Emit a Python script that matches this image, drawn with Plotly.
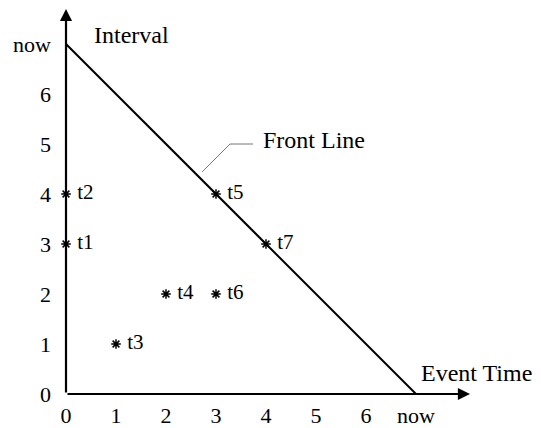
import plotly.graph_objects as go

# ---- data ----
event_x = [0, 0, 1, 2, 3, 3, 4]
interval_y = [3, 4, 1, 2, 4, 2, 3]
point_labels = ["t1", "t2", "t3", "t4", "t5", "t6", "t7"]

tick_vals = [0, 1, 2, 3, 4, 5, 6, 7]
tick_text = ["0", "1", "2", "3", "4", "5", "6", "now"]

now_value = 7
front_line_x = [0, now_value]
front_line_y = [now_value, 0]

FONT = "Liberation Serif"

fig = go.Figure()

# Front line
fig.add_trace(go.Scatter(
    x=front_line_x, y=front_line_y, mode="lines",
    line=dict(color="black", width=2), hoverinfo="skip", showlegend=False))

# Leader line for "Front Line" label
fig.add_trace(go.Scatter(
    x=[2.72, 3.28, 3.74], y=[4.44, 5.0, 5.0], mode="lines",
    line=dict(color="#777777", width=1), hoverinfo="skip", showlegend=False))

# Event points
fig.add_trace(go.Scatter(
    x=event_x, y=interval_y, mode="markers+text",
    text=[" " + t for t in point_labels], textposition="middle right",
    textfont=dict(family=FONT, size=21, color="black"),
    marker=dict(symbol="asterisk-open", size=8, color="black",
                line=dict(color="black", width=1.5)),
    showlegend=False, cliponaxis=False))

annotations = [
    # y axis arrow
    dict(x=0, y=7.7, ax=0, ay=0, xref="x", yref="y", axref="x", ayref="y",
         showarrow=True, arrowhead=2, arrowsize=1.1, arrowwidth=2.2,
         arrowcolor="black", text=""),
    # x axis arrow
    dict(x=8.08, y=0, ax=0, ay=0, xref="x", yref="y", axref="x", ayref="y",
         showarrow=True, arrowhead=2, arrowsize=1.1, arrowwidth=2.2,
         arrowcolor="black", text=""),
    dict(x=0.52, y=7.18, xref="x", yref="y", text="Interval", showarrow=False,
         xanchor="left", yanchor="middle",
         font=dict(family=FONT, size=24, color="black")),
    dict(x=7.06, y=0.42, xref="x", yref="y", text="Event Time", showarrow=False,
         xanchor="left", yanchor="middle",
         font=dict(family=FONT, size=24, color="black")),
    dict(x=3.9, y=5.08, xref="x", yref="y", text="Front Line", showarrow=False,
         xanchor="left", yanchor="middle",
         font=dict(family=FONT, size=24, color="black")),
]

fig.update_layout(
    width=533, height=420,
    margin=dict(l=58, r=0, t=0, b=34),
    paper_bgcolor="white", plot_bgcolor="white",
    annotations=annotations,
    showlegend=False,
)
fig.update_xaxes(
    range=[0, 9.5], showgrid=False, zeroline=False, showline=False,
    tickvals=tick_vals, ticktext=tick_text, ticks="",
    ticklabelstandoff=6,
    tickfont=dict(family=FONT, size=22, color="black"))
fig.update_yaxes(
    range=[0, 7.72], showgrid=False, zeroline=False, showline=False,
    tickvals=tick_vals, ticktext=tick_text, ticks="",
    ticklabelstandoff=14,
    tickfont=dict(family=FONT, size=22, color="black"))

fig.write_html("out.html")
